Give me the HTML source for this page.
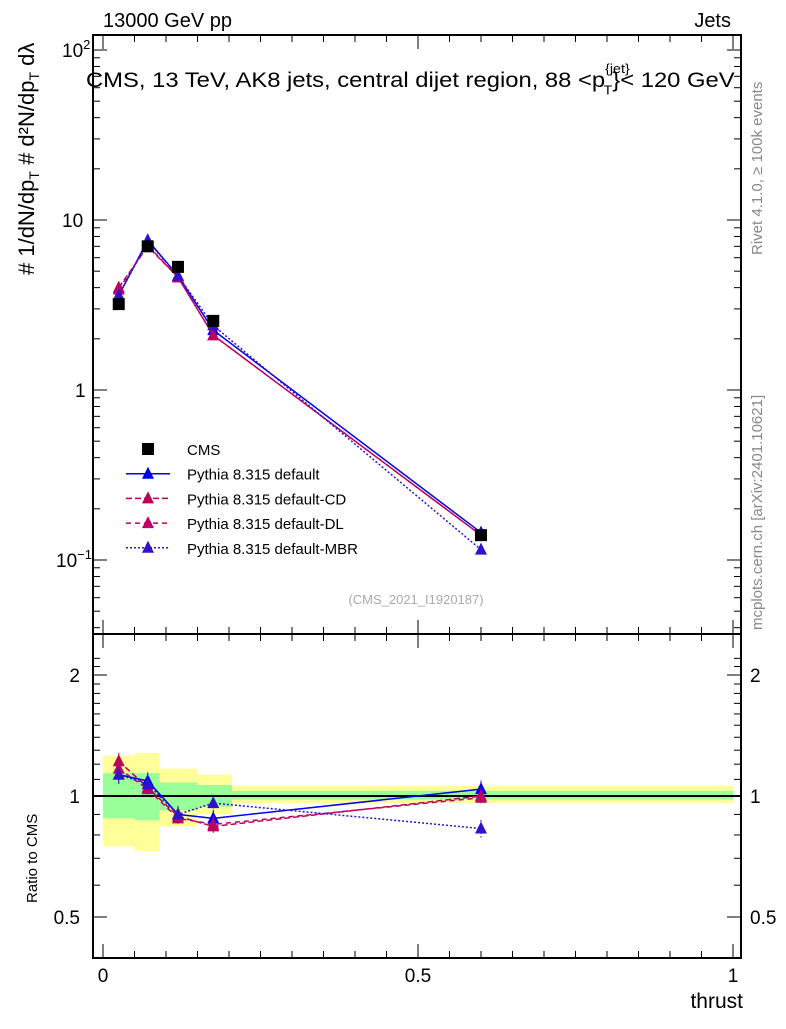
<!DOCTYPE html>
<html><head><meta charset="utf-8"><style>
body{margin:0;background:#fff;}
svg{font-family:"Liberation Sans",sans-serif;}
</style></head><body>
<svg id="c" width="786" height="1024" viewBox="0 0 786 1024" xmlns="http://www.w3.org/2000/svg">
<text x="103" y="27" font-size="20">13000 GeV pp</text>
<text x="731" y="27" font-size="20" text-anchor="end">Jets</text>
<text x="0" y="0" font-size="15" fill="#888" transform="translate(762,255) rotate(-90)">Rivet 4.1.0, ≥ 100k events</text>
<text x="0" y="0" font-size="15" fill="#888" transform="translate(762,630) rotate(-90)">mcplots.cern.ch [arXiv:2401.10621]</text>
<text x="416" y="604" font-size="13" fill="#aaa" text-anchor="middle">(CMS_2021_I1920187)</text>
<text x="0" y="0" font-size="22" transform="translate(34,275) rotate(-90)">#  1/dN/dp<tspan font-size="14" dy="5">T</tspan><tspan dy="-5"> #  d²N/dp</tspan><tspan font-size="14" dy="5">T</tspan><tspan dy="-5"> dλ</tspan></text>
<text x="0" y="0" font-size="15" transform="translate(37,903) rotate(-90)">Ratio to CMS</text>
<text x="743" y="1008" font-size="21" text-anchor="end">thrust</text>
<text x="0" y="0" font-size="20" transform="translate(86,87) scale(1.19,1.08)">CMS, 13 TeV, AK8 jets, central dijet region, 88 &lt;p<tspan font-size="12" dy="-13">{jet}</tspan><tspan font-size="12" dx="-22" dy="20">T</tspan><tspan dy="-7">}&lt; 120 GeV</tspan></text>
<g id="g"></g>
</svg>
<script>
const xs=[0.025,0.071,0.119,0.175,0.6];
const binEdges=[0,0.05,0.09,0.15,0.205,1.0];
const cmsVals=[3.2,7.0,5.3,2.55,0.14];
const defVals=[3.6,7.6,4.7,2.25,0.145];
const cdVals=[4.0,7.0,4.6,2.1,0.14];
const dlVals=[3.9,7.1,4.6,2.1,0.14];
const mbrVals=[3.6,7.5,4.7,2.4,0.115];
const defRatio=[1.13,1.09,0.9,0.88,1.04];
const cdRatio=[1.22,1.05,0.89,0.84,1.0];
const dlRatio=[1.17,1.04,0.88,0.85,0.99];
const mbrRatio=[1.13,1.07,0.9,0.96,0.83];
const greenLo=[0.88,0.87,0.92,0.94,0.98];
const greenHi=[1.14,1.14,1.08,1.065,1.03];
const yellowLo=[0.75,0.73,0.84,0.9,0.96];
const yellowHi=[1.26,1.28,1.17,1.13,1.06];
const xTicks=[0,0.5,1];
const xTickLabels=["0","0.5","1"];
const rTicks=[0.5,1,2];
const rTickLabels=["0.5","1","2"];

const NS="http://www.w3.org/2000/svg";
const g=document.getElementById('g');
const X=v=>103+630*v;
const Y=v=>390-170*Math.log10(v);
const R=v=>796-121*Math.log2(v);
const L=93,Rt=741,T=35,M=634,B=958;
function el(t,a,p){const e=document.createElementNS(NS,t);for(const k in a)e.setAttribute(k,a[k]);(p||g).appendChild(e);return e;}
for(let i=0;i<xs.length;i++){
 const y=el('rect',{x:X(binEdges[i]),y:R(yellowHi[i]),width:X(binEdges[i+1])-X(binEdges[i]),height:R(yellowLo[i])-R(yellowHi[i]),fill:'#ffff99'});
 
 
 const gr=el('rect',{x:X(binEdges[i]),y:R(greenHi[i]),width:X(binEdges[i+1])-X(binEdges[i]),height:R(greenLo[i])-R(greenHi[i]),fill:'#99ff99'});
 
 
}
el('line',{x1:L,x2:Rt,y1:R(1),y2:R(1),stroke:'#000','stroke-width':2});
const f1=el('rect',{x:L,y:T,width:Rt-L,height:M-T,fill:'none',stroke:'#000','stroke-width':2});


const f2=el('rect',{x:L,y:M,width:Rt-L,height:B-M,fill:'none',stroke:'#000','stroke-width':2});


for(let v=0;v<=1.001;v+=0.05){const major=Math.abs(v*10-Math.round(v*10))<1e-6&&Math.round(v*10)%5==0;const len=major?14:7;
 for(const [a,b] of [[T,1],[M,-1],[M,1],[B,-1]]) el('line',{x1:X(v),x2:X(v),y1:a,y2:a+b*len,stroke:'#000'});}
xTicks.forEach((v,i)=>{const t=el('text',{x:X(v),y:982,'font-size':19,'text-anchor':'middle'});t.textContent=xTickLabels[i];
 
 });
for(let d=-2;d<=2;d++)for(let m=1;m<10;m++){const v=m*Math.pow(10,d);const y=Y(v);if(y<T||y>M)continue;const len=m==1?14:7;
 el('line',{x1:L,x2:L+len,y1:y,y2:y,stroke:'#000'});el('line',{x1:Rt,x2:Rt-len,y1:y,y2:y,stroke:'#000'});}
[[100,'10','2'],[10,'10',''],[1,'1',''],[0.1,'10','−1']].forEach(([v,b,e])=>{const t=el('text',{x:e?(e=='2'?62:56):(b=='10'?62:75),y:Y(v)+7,'font-size':19});t.textContent=b;
 
 
 if(e){const s=el('tspan',{dy:-8,'font-size':13},t);s.textContent=e;}});
for(let v=0.5;v<=2.3;v+=0.1){const y=R(v);if(y<M||y>B)continue;const major=[0.5,1,2].some(m=>Math.abs(m-v)<1e-6);const len=major?14:7;
 el('line',{x1:L,x2:L+len,y1:y,y2:y,stroke:'#000'});el('line',{x1:Rt,x2:Rt-len,y1:y,y2:y,stroke:'#000'});}
rTicks.forEach((v,i)=>{const t=el('text',{x:80,y:R(v)+7,'font-size':19,'text-anchor':'end'});t.textContent=rTickLabels[i];
 
 
 const t2=el('text',{x:750,y:R(v)+7,'font-size':19});t2.textContent=rTickLabels[i];
 
 });
const series=[
 {n:'default',v:defVals,r:defRatio,c:'#0000ee',d:'',l:'Pythia 8.315 default'},
 {n:'cd',v:cdVals,r:cdRatio,c:'#bb0055',d:'6,3',l:'Pythia 8.315 default-CD'},
 {n:'dl',v:dlVals,r:dlRatio,c:'#bb0066',d:'5,4',l:'Pythia 8.315 default-DL'},
 {n:'mbr',v:mbrVals,r:mbrRatio,c:'#3311cc',d:'2,2',l:'Pythia 8.315 default-MBR'}];
function tri(x,y,c){return el('polygon',{points:`${x},${y-7} ${x-6},${y+5} ${x+6},${y+5}`,fill:c});}
series.forEach(s=>{
 const p=el('polyline',{points:xs.map((x,i)=>X(x)+','+Y(s.v[i])).join(' '),fill:'none',stroke:s.c,'stroke-width':1.5,'stroke-dasharray':s.d});
 
 
 const q=el('polyline',{points:xs.map((x,i)=>X(x)+','+R(s.r[i])).join(' '),fill:'none',stroke:s.c,'stroke-width':1.5,'stroke-dasharray':s.d});
 
 
 xs.forEach((x,i)=>{const a=tri(X(x),Y(s.v[i]),s.c);
  
  
  const b=tri(X(x),R(s.r[i]),s.c);
  
  
  el('line',{x1:X(x),x2:X(x),y1:R(s.r[i]*1.05),y2:R(s.r[i]*0.95),stroke:s.c,'stroke-dasharray':s.d});});
});
xs.forEach((x,i)=>{const r=el('rect',{x:X(x)-6,y:Y(cmsVals[i])-6,width:12,height:12,fill:'#000'});
 
 });
const leg=[{l:'CMS'}].concat(series);
leg.forEach((s,i)=>{const y=449+i*24.7;
 if(i==0){el('rect',{x:142,y:y-6,width:12,height:12,fill:'#000'});}
 else{el('line',{x1:126,x2:170,y1:y,y2:y,stroke:s.c,'stroke-width':1.5,'stroke-dasharray':s.d});tri(148,y,s.c);}
 const t=el('text',{x:187,y:y+6,'font-size':15});t.textContent=s.l||'CMS';
 
 });
</script>
</body></html>
